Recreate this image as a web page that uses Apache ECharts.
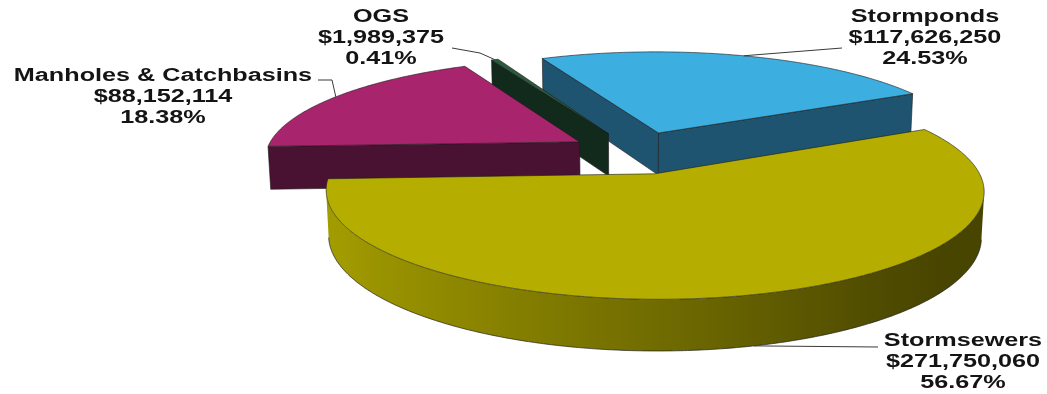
<!DOCTYPE html>
<html>
<head>
<meta charset="utf-8">
<script src="https://cdn.jsdelivr.net/npm/echarts@6/dist/echarts.min.js"></script>
<style>
  html, body { margin: 0; padding: 0; background: #ffffff; }
  #chart { width: 1047px; height: 394px; }
</style>
</head>
<body>
<div id="chart"></div>
<script>
// Stormwater infrastructure replacement value by asset class
const categories = ['Stormponds', 'Stormsewers', 'Manholes & Catchbasins', 'OGS'];
const amounts = [117626250, 271750060, 88152114, 1989375];

// slice colours: top face and the darker side faces
const topColors = ['#3daee0', '#b5ad00', '#a8246c', '#2c5a3c'];
const sideColors = ['#1f5470', '#6e6900', '#491132', '#122a1c'];

// 3D view of a unit-radius disc seen from above the near side, with perspective
const view = {
  cx: 637, cy: 152.5, focal: 1950, dist: 6.2, elev: Math.asin(0.315),
  thick: 0.146, explode: 0.215, startAngle: 335, step: 0.5
};

// label placement: centre x, centre of first text line, leader bend points
const labelLayout = [
  { x: 925, y: 17, bend: [[842, 48]] },
  { x: 963, y: 341, bend: [[878, 347]] },
  { x: 163, y: 76.5, bend: [[332, 80], [318, 80]] },
  { x: 381, y: 17.5, bend: [[480, 53], [452, 48]] }
];

const RAD = Math.PI / 180;
const sinE = Math.sin(view.elev), cosE = Math.cos(view.elev);
const camera = [0, view.dist * sinE, -view.dist * cosE];
const total = amounts.reduce((a, b) => a + b, 0);

function depthOf(p) { return view.dist + p[2] * cosE - p[1] * sinE; }
function project(p) {
  const d = depthOf(p);
  return [view.cx + view.focal * p[0] / d, view.cy - view.focal * (p[1] * cosE + p[2] * sinE) / d];
}
function facesCamera(p, n) {
  return (camera[0] - p[0]) * n[0] + (camera[1] - p[1]) * n[1] + (camera[2] - p[2]) * n[2] > 0;
}
function centre(pts) {
  const c = [0, 0, 0];
  pts.forEach(p => { c[0] += p[0]; c[1] += p[1]; c[2] += p[2]; });
  return c.map(v => v / pts.length);
}
function shade(hex, f) {
  const n = parseInt(hex.slice(1), 16);
  const r = Math.round(((n >> 16) & 255) * f), g = Math.round(((n >> 8) & 255) * f), b = Math.round((n & 255) * f);
  return 'rgb(' + r + ',' + g + ',' + b + ')';
}

// angular extent of every slice, clockwise from 12 o'clock
function sliceAngles(i, value) {
  let before = 0;
  for (let k = 0; k < i; k++) before += amounts[k];
  const a0 = view.startAngle + before / total * 360;
  return [a0, a0 + value / total * 360];
}
function sliceOffset(a0, a1) {
  const mid = (a0 + a1) / 2 * RAD;
  return [view.explode * Math.sin(mid), 0, view.explode * Math.cos(mid)];
}

// painter's order: farthest slice first
const drawRank = (() => {
  const items = amounts.map((v, i) => {
    const [a0, a1] = sliceAngles(i, v);
    const o = sliceOffset(a0, a1);
    const mid = (a0 + a1) / 2 * RAD;
    const c = [o[0] + 0.5 * Math.sin(mid), 0, o[2] + 0.5 * Math.cos(mid)];
    return { i, d: depthOf(c) };
  });
  items.sort((a, b) => b.d - a.d);
  const rank = [];
  items.forEach((it, r) => { rank[it.i] = r; });
  return rank;
})();

const edgeStroke = 'rgba(25,25,25,0.75)';

function wallFactor(a) {
  const f = 0.62 - 0.3 * Math.sin(a * RAD);
  return Math.max(0.4, Math.min(0.9, f));
}

function renderItem(params, api) {
  const i = params.dataIndex;
  const value = api.value(0);
  const [a0, a1] = sliceAngles(i, value);
  const o = sliceOffset(a0, a1);
  const T = 0, B = -view.thick;
  const rim = (a, h) => [o[0] + Math.sin(a * RAD), h, o[2] + Math.cos(a * RAD)];
  const apex = h => [o[0], h, o[2]];
  const base = drawRank[i] * 1000;
  const children = [];
  const faces = [];

  // flat radial faces at both ends of the slice
  [[a0, a0 - 90], [a1, a1 + 90]].forEach(([a, na]) => {
    const pts = [apex(T), rim(a, T), rim(a, B), apex(B)];
    const c = centre(pts);
    const n = [Math.sin(na * RAD), 0, Math.cos(na * RAD)];
    if (facesCamera(c, n)) {
      faces.push({ points: pts.map(project), fill: sideColors[i], d: depthOf(c) });
    }
  });

  // curved outer wall: visible runs of the rim, shaded with light from the left
  const steps = Math.max(3, Math.ceil((a1 - a0) / view.step));
  const runs = [];
  let run = null;
  for (let k = 0; k < steps; k++) {
    const s0 = a0 + (a1 - a0) * k / steps, s1 = a0 + (a1 - a0) * (k + 1) / steps;
    const sm = (s0 + s1) / 2;
    const c = centre([rim(s0, T), rim(s1, T), rim(s1, B), rim(s0, B)]);
    const n = [Math.sin(sm * RAD), 0, Math.cos(sm * RAD)];
    if (facesCamera(c, n)) {
      if (!run) { run = { angles: [s0] }; runs.push(run); }
      run.angles.push(s1);
    } else {
      run = null;
    }
  }
  runs.forEach(r => {
    const topLine = r.angles.map(a => project(rim(a, T)));
    const botLine = r.angles.map(a => project(rim(a, B)));
    const poly = topLine.concat(botLine.slice().reverse());
    const xs = poly.map(p => p[0]);
    const xmin = Math.min.apply(null, xs), xmax = Math.max.apply(null, xs);
    const first = r.angles[0], last = r.angles[r.angles.length - 1];
    const stops = [];
    for (let k = 0; k <= 12; k++) {
      const a = first + (last - first) * k / 12;
      const px = project(rim(a, T))[0];
      stops.push({
        offset: Math.max(0, Math.min(1, (px - xmin) / Math.max(1, xmax - xmin))),
        color: shade(topColors[i], wallFactor(a))
      });
    }
    stops.sort((p, q) => p.offset - q.offset);
    const mid = (first + last) / 2;
    faces.push({
      points: poly,
      fill: new echarts.graphic.LinearGradient(0, 0, 1, 0, stops),
      d: depthOf(rim(mid, B / 2)),
      bottom: botLine
    });
  });

  faces.sort((p, q) => q.d - p.d);
  faces.forEach((f, k) => {
    children.push({
      type: 'polygon', z2: base + 1 + k,
      shape: { points: f.points },
      style: { fill: f.fill, stroke: f.bottom ? null : edgeStroke, lineWidth: 0.8 }
    });
    if (f.bottom) {
      children.push({
        type: 'polyline', z2: base + 1 + k,
        shape: { points: f.bottom },
        style: { fill: null, stroke: edgeStroke, lineWidth: 0.9 }
      });
    }
  });

  // top face
  const topPts = [apex(T)];
  for (let k = 0; k <= steps; k++) topPts.push(rim(a0 + (a1 - a0) * k / steps, T));
  children.push({
    type: 'polygon', z2: base + 900,
    shape: { points: topPts.map(project) },
    style: { fill: topColors[i], stroke: edgeStroke, lineWidth: 0.8 }
  });

  // leader line from the rim at the slice's middle angle
  const midA = (a0 + a1) / 2;
  const nearSide = Math.cos(midA * RAD) < 0;
  const anchor = project(rim(midA, nearSide ? B : T));
  const lay = labelLayout[i];
  children.push({
    type: 'polyline', z2: 5000,
    shape: { points: [anchor].concat(lay.bend) },
    style: { fill: null, stroke: '#3a3a3a', lineWidth: 1 }
  });

  const pct = (value / total * 100).toFixed(2) + '%';
  const money = '$' + value.toLocaleString('en-US');
  children.push({
    type: 'text', z2: 5001,
    x: lay.x, y: lay.y - 10.5, scaleX: 1.4, scaleY: 1,
    style: {
      text: categories[i] + '\n' + money + '\n' + pct,
      fontFamily: '"Liberation Sans", Arial, sans-serif',
      fontWeight: 'bold', fontSize: 18, lineHeight: 21,
      fill: '#141414', align: 'center', verticalAlign: 'top'
    }
  });

  return { type: 'group', children };
}

const chart = echarts.init(document.getElementById('chart'));
chart.setOption({
  animation: false,
  backgroundColor: '#ffffff',
  series: [{
    type: 'custom',
    coordinateSystem: 'none',
    silent: true,
    data: amounts.map((v, i) => ({ name: categories[i], value: v })),
    renderItem
  }]
});
</script>
</body>
</html>
